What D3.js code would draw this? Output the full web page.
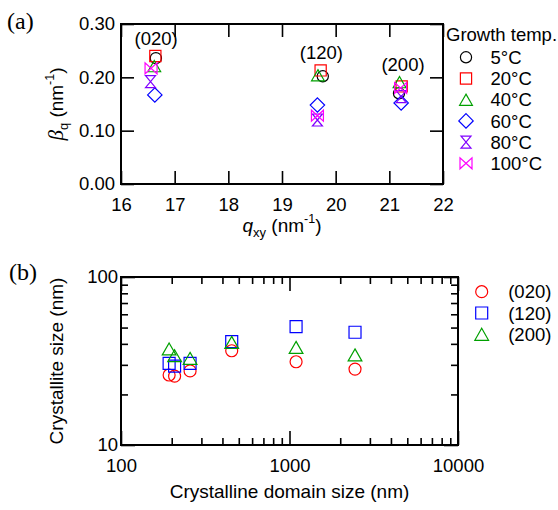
<!DOCTYPE html>
<html><head><meta charset="utf-8">
<script src="https://cdn.jsdelivr.net/npm/d3@7"></script>
<style>
body{margin:0;background:#fff}
svg{display:block;background:#fff;font-family:"Liberation Sans",Arial,sans-serif}
</style>
</head><body>
<svg id="c" width="558" height="510"></svg>
<script>
// ---------- Panel (a) data ----------
const temps = ["5°C","20°C","40°C","60°C","80°C","100°C"];
const tempColors = ["#000000","#ff0000","#00a000","#0000ff","#8000ff","#ff00ff"];
const tempShapes = ["circle","square","triangle","diamond","hourglass","bowtie"];
const peaks = ["(020)","(120)","(200)"];
// q_xy positions (nm^-1) per temperature, for each peak
const q020 = [16.65,16.64,16.62,16.63,16.55,16.56];
const q120 = [19.76,19.72,19.67,19.66,19.66,19.66];
const q200 = [21.18,21.23,21.19,21.22,21.22,21.21];
// beta_q (nm^-1) per temperature, for each peak
const beta020 = [0.236,0.240,0.221,0.167,0.192,0.217];
const beta120 = [0.202,0.213,0.204,0.148,0.120,0.128];
const beta200 = [0.170,0.183,0.191,0.152,0.164,0.180];
const xTicksA = [16,17,18,19,20,21,22];
const yTicksA = [0,0.1,0.2,0.3];

// ---------- Panel (b) data ----------
const domainSize = [193,208,257,454,1094,2448];
const size020 = [26.1,25.7,27.6,36.4,31.3,28.3];
const size120 = [30.6,29.5,30.6,41.2,50.6,46.9];
const size200 = [37.3,34.0,32.8,40.8,38.1,34.4];
const seriesB = ["(020)","(120)","(200)"];
const colorsB = ["#ff0000","#0000ff","#00a000"];
const shapesB = ["circle","square","triangle"];

// ---------- helpers ----------
function shapePath(t, k){
  switch(t){
    case "circle": { const r=5.6*k; return `M${r},0A${r},${r} 0 1,1 ${-r},0A${r},${r} 0 1,1 ${r},0Z`; }
    case "square": { const h=5.6*k; return `M${-h},${-h}H${h}V${h}H${-h}Z`; }
    case "triangle": { const w=6.4*k, h=5.6*k; return `M0,${-h}L${w},${h}H${-w}Z`; }
    case "diamond": { const h=7.2*k; return `M0,${-h}L${h},0L0,${h}L${-h},0Z`; }
    case "hourglass": { const w=5*k, h=6*k; return `M${-w},${-h}H${w}L${-w},${h}H${w}Z`; }
    case "bowtie": { const w=6*k, h=5.5*k; return `M${-w},${-h}V${h}L${w},${-h}V${h}Z`; }
  }
}

const svg = d3.select("#c");
const FS = 18.5;
const SANS = "Liberation Sans, Arial, sans-serif";
const SERIF = "Liberation Serif, Times New Roman, serif";

// ================= Panel (a) =================
const xA = d3.scaleLinear().domain([16,22]).range([121,443]);
const yA = d3.scaleLinear().domain([0,0.3]).range([184,24]);
const gA = svg.append("g");

function styleAxis(g){
  g.select(".domain").remove();
  g.selectAll(".tick line").attr("stroke","#000").attr("stroke-width",1.6);
  g.selectAll(".tick text").attr("font-size",FS).attr("fill","#000").attr("font-family",SANS);
}

gA.append("g").attr("transform","translate(0,184)")
  .call(d3.axisBottom(xA).tickValues(xTicksA).tickFormat(d3.format("d")).tickSizeInner(-13).tickSizeOuter(0).tickPadding(14))
  .call(styleAxis);
gA.append("g").attr("transform","translate(0,24)")
  .call(d3.axisTop(xA).tickValues(xTicksA).tickFormat("").tickSizeInner(-13).tickSizeOuter(0))
  .call(styleAxis);
gA.append("g").attr("transform","translate(121,0)")
  .call(d3.axisLeft(yA).tickValues(yTicksA).tickFormat(d3.format(".2f")).tickSizeInner(-13).tickSizeOuter(0).tickPadding(6))
  .call(styleAxis);
gA.append("g").attr("transform","translate(443,0)")
  .call(d3.axisRight(yA).tickValues(yTicksA).tickFormat("").tickSizeInner(-13).tickSizeOuter(0))
  .call(styleAxis);
gA.append("rect").attr("x",xA(16)).attr("y",yA(0.3)).attr("width",xA(22)-xA(16)).attr("height",yA(0)-yA(0.3))
  .attr("fill","none").attr("stroke","#000").attr("stroke-width",2);

const qAll = [q020,q120,q200];
const bAll = [beta020,beta120,beta200];
const ptsA = [];
peaks.forEach((p,i)=>temps.forEach((t,j)=>ptsA.push({peak:i,temp:j,q:qAll[i][j],b:bAll[i][j]})));
gA.selectAll("path.ma").data(ptsA).join("path").attr("class","ma")
  .attr("transform",d=>`translate(${xA(d.q)},${yA(d.b)})`)
  .attr("d",d=>shapePath(tempShapes[d.temp],1))
  .attr("fill","none").attr("stroke",d=>tempColors[d.temp]).attr("stroke-width",1.2);

// peak annotations
peaks.forEach((p,i)=>{
  gA.append("text").attr("x",xA(d3.mean(qAll[i]))+2.5).attr("y",yA(d3.max(bAll[i]))-11)
    .attr("text-anchor","middle").attr("font-size",FS).text(p);
});

// axis titles (a)
const xtA = gA.append("text").attr("x",(xA(16)+xA(22))/2).attr("y",232).attr("text-anchor","middle").attr("font-size",FS+0.5);
xtA.append("tspan").attr("font-style","italic").text("q");
xtA.append("tspan").attr("font-size",13).attr("dy",5).text("xy");
xtA.append("tspan").attr("dy",-5).text(" (nm");
xtA.append("tspan").attr("font-size",12.5).attr("dy",-9).text("-1");
xtA.append("tspan").attr("dy",9).text(")");

const ytA = gA.append("text").attr("transform",`translate(63,${(yA(0)+yA(0.3))/2}) rotate(-90)`).attr("text-anchor","middle").attr("font-size",FS+0.5);
ytA.append("tspan").attr("font-style","italic").attr("font-family",SERIF).attr("font-size",21).text("β");
ytA.append("tspan").attr("font-size",13).attr("dy",5).text("q");
ytA.append("tspan").attr("dy",-5).text(" (nm");
ytA.append("tspan").attr("font-size",12.5).attr("dy",-9).text("-1");
ytA.append("tspan").attr("dy",9).text(")");

// legend (a)
gA.append("text").attr("x",446).attr("y",41).attr("font-size",FS).text("Growth temp.");
const legA = gA.selectAll("g.la").data(temps).join("g").attr("class","la")
  .attr("transform",(d,i)=>`translate(466,${57.3+i*21.2})`);
legA.append("path").attr("d",(d,i)=>shapePath(tempShapes[i],1)).attr("fill","none")
  .attr("stroke",(d,i)=>tempColors[i]).attr("stroke-width",1.2);
legA.append("text").attr("x",24.5).attr("dy","0.36em").attr("font-size",FS).text(d=>d);

// panel label
svg.append("text").attr("x",7).attr("y",29).attr("font-family",SERIF).attr("font-size",24).text("(a)");

// ================= Panel (b) =================
const xB = d3.scaleLog().domain([100,10000]).range([121,458]);
const yB = d3.scaleLog().domain([10,100]).range([445,277]);
const gB = svg.append("g");
const isMajor = v => Math.abs(Math.log10(v) - Math.round(Math.log10(v))) < 1e-9;
const xTicksB = xB.ticks();
const yTicksB = yB.ticks();
const fmtB = v => isMajor(v) ? d3.format("d")(v) : "";

function logTicks(g, horiz, sign){
  g.selectAll(".tick line").each(function(d){
    const L = (isMajor(d)?14:7)*sign;
    if(horiz) d3.select(this).attr("y2",L); else d3.select(this).attr("x2",L);
  });
}
gB.append("g").attr("transform","translate(0,445)")
  .call(d3.axisBottom(xB).tickValues(xTicksB).tickFormat(fmtB).tickSizeInner(-14).tickSizeOuter(0).tickPadding(14))
  .call(styleAxis).call(g=>logTicks(g,true,-1));
gB.append("g").attr("transform","translate(0,277)")
  .call(d3.axisTop(xB).tickValues(xTicksB).tickFormat("").tickSizeInner(-14).tickSizeOuter(0))
  .call(styleAxis).call(g=>logTicks(g,true,1));
gB.append("g").attr("transform","translate(121,0)")
  .call(d3.axisLeft(yB).tickValues(yTicksB).tickFormat(fmtB).tickSizeInner(-14).tickSizeOuter(0).tickPadding(3))
  .call(styleAxis).call(g=>logTicks(g,false,1));
gB.append("g").attr("transform","translate(458,0)")
  .call(d3.axisRight(yB).tickValues(yTicksB).tickFormat("").tickSizeInner(-14).tickSizeOuter(0))
  .call(styleAxis).call(g=>logTicks(g,false,-1));
gB.append("rect").attr("x",xB(100)).attr("y",yB(100)).attr("width",xB(10000)-xB(100)).attr("height",yB(10)-yB(100))
  .attr("fill","none").attr("stroke","#000").attr("stroke-width",2);

const sizesB = [size020,size120,size200];
const ptsB = [];
seriesB.forEach((s,i)=>domainSize.forEach((x,j)=>ptsB.push({s:i,x:x,y:sizesB[i][j]})));
gB.selectAll("path.mb").data(ptsB).join("path").attr("class","mb")
  .attr("transform",d=>`translate(${xB(d.x)},${yB(d.y)})`)
  .attr("d",d=>shapePath(shapesB[d.s],1.07))
  .attr("fill","none").attr("stroke",d=>colorsB[d.s]).attr("stroke-width",1.2);

gB.append("text").attr("x",(xB(100)+xB(10000))/2).attr("y",498).attr("text-anchor","middle").attr("font-size",FS+0.5)
  .text("Crystalline domain size (nm)");
gB.append("text").attr("transform",`translate(63,${(yB(10)+yB(100))/2}) rotate(-90)`).attr("text-anchor","middle").attr("font-size",FS+0.5)
  .text("Crystallite size (nm)");

const legB = gB.selectAll("g.lb").data(seriesB).join("g").attr("class","lb")
  .attr("transform",(d,i)=>`translate(481.7,${291.7+i*21.3})`);
legB.append("path").attr("d",(d,i)=>shapePath(shapesB[i],1.07)).attr("fill","none")
  .attr("stroke",(d,i)=>colorsB[i]).attr("stroke-width",1.2);
legB.append("text").attr("x",26.5).attr("dy","0.36em").attr("font-size",FS).text(d=>d);

svg.append("text").attr("x",9).attr("y",280).attr("font-family",SERIF).attr("font-size",24).text("(b)");
</script>
</body></html>
